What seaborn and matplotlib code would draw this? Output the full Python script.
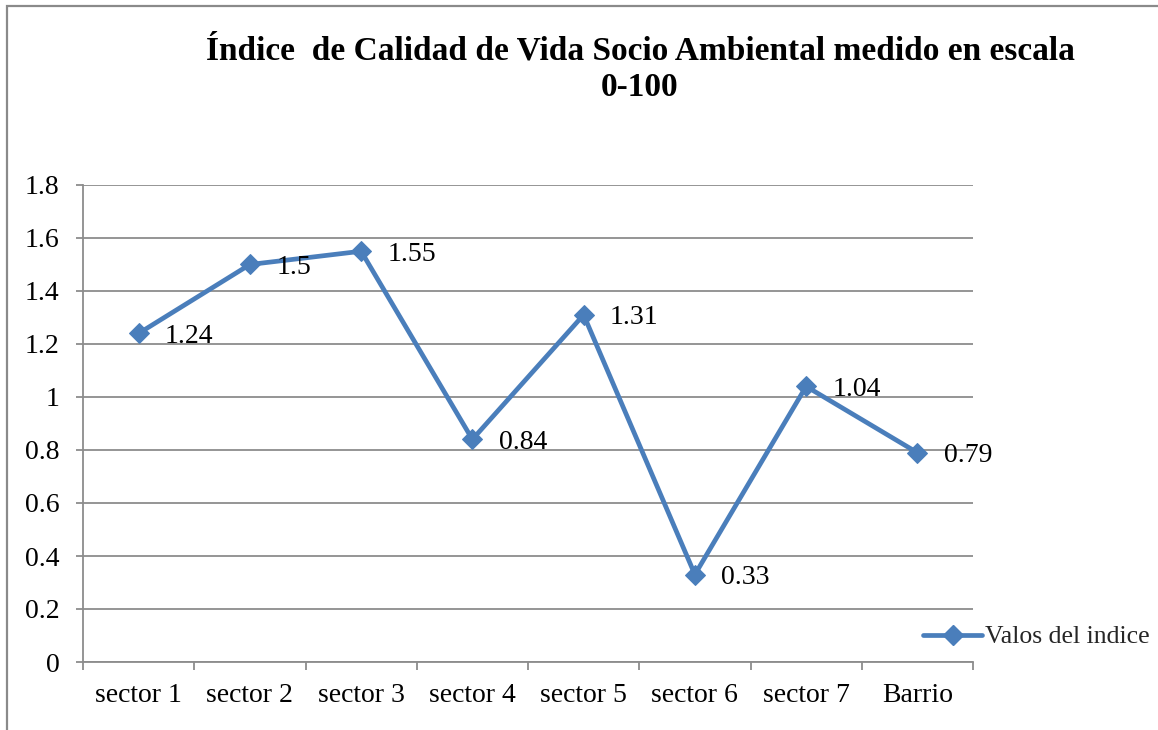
import matplotlib
matplotlib.use("Agg")
import matplotlib.pyplot as plt
import seaborn as sns
import pandas as pd
from matplotlib.patches import Rectangle
from matplotlib.lines import Line2D
from matplotlib.ticker import FixedLocator, MultipleLocator, FuncFormatter

categories = ["sector 1", "sector 2", "sector 3", "sector 4", "sector 5", "sector 6", "sector 7", "Barrio"]
values = [1.24, 1.5, 1.55, 0.84, 1.31, 0.33, 1.04, 0.79]
series_name = "Valos del indice"
title_text = "Índice  de Calidad de Vida Socio Ambiental medido en escala\n0-100"

sns.set_theme(style="white")
plt.rcParams["font.family"] = ["Liberation Serif", "DejaVu Serif"]

line_color = "#4A7EBB"
grid_color = "#8C8C8C"
fs = 20

fig = plt.figure(figsize=(11.58, 7.30), dpi=100)
ax = fig.add_axes([83/1158, 68/730, 890/1158, 477/730])

df = pd.DataFrame({"cat": categories, "val": values})
sns.lineplot(data=df, x="cat", y="val", sort=False, ax=ax, color=line_color,
             linewidth=3.4, marker="D", markersize=10, markeredgecolor=line_color,
             markerfacecolor=line_color, zorder=5)

for i, v in enumerate(values):
    ax.annotate(f"{v:g}", xy=(i, v), xytext=(19, -2), textcoords="offset points",
                ha="left", va="center", fontsize=fs, color="black", zorder=6)

ax.set_xlim(-0.5, len(categories) - 0.5)
ax.set_ylim(0, 1.8)
ax.yaxis.set_major_locator(MultipleLocator(0.2))
ax.yaxis.set_major_formatter(FuncFormatter(lambda y, p: f"{round(y, 1):g}"))
ax.grid(axis="y", color=grid_color, linewidth=1.3)
ax.grid(axis="x", visible=False)
ax.set_axisbelow(True)

ax.set_xticks(range(len(categories)))
ax.set_xticklabels(categories)
ax.xaxis.set_minor_locator(FixedLocator([i - 0.5 for i in range(len(categories) + 1)]))
ax.tick_params(axis="x", which="major", length=0, pad=15, labelsize=fs, colors="black")
ax.tick_params(axis="x", which="minor", length=6, width=1.3, color=grid_color, direction="out", bottom=True)
ax.tick_params(axis="y", which="major", length=5, width=1.3, color=grid_color, direction="out",
               pad=12, labelsize=fs, labelcolor="black", left=True)

for s in ["top", "right"]:
    ax.spines[s].set_visible(False)
for s in ["left", "bottom"]:
    ax.spines[s].set_color(grid_color)
    ax.spines[s].set_linewidth(1.3)
ax.set_xlabel("")
ax.set_ylabel("")

handle = Line2D([], [], color=line_color, linewidth=3.4, marker="D", markersize=10,
                markerfacecolor=line_color, markeredgecolor=line_color)
fig.legend(handles=[handle], labels=[series_name], loc="center left",
           bbox_to_anchor=(923/1158, 1 - 637/730), bbox_transform=fig.transFigure,
           frameon=False, borderpad=0, borderaxespad=0, handlelength=2.3,
           handletextpad=0.12, fontsize=18.5)

fig.text(640/1158, 1 - 69/730, title_text, ha="center", va="center", fontsize=24,
         fontweight="bold", linespacing=1.25, color="black")

fig.patches.append(Rectangle((6.5/1158, -0.2), 1.5, 1.2 - 6/730, transform=fig.transFigure,
                             fill=False, edgecolor="#8A8A8A", linewidth=1.6, figure=fig))

fig.savefig("out.png", dpi=100)
